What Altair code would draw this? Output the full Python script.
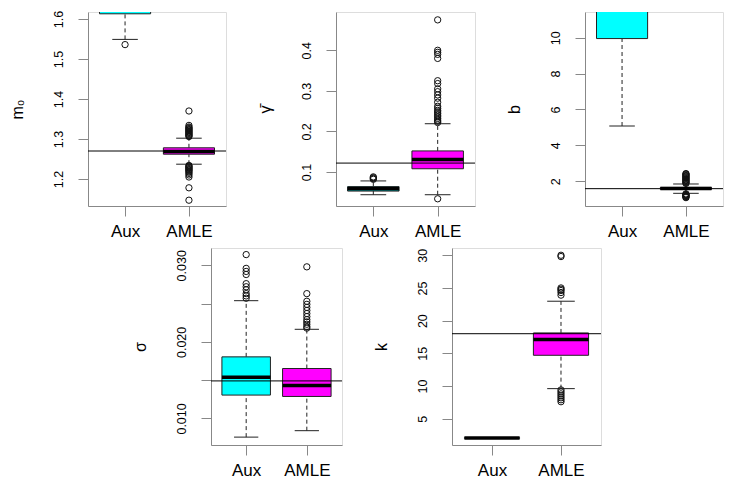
import altair as alt
import pandas as pd

groups = ["Aux", "AMLE"]
positions = [1, 2]
fills = ["#00FFFF", "#FF00FF"]

# five-number summaries: lower whisker, q1, median, q3, upper whisker
m0_aux = [1.549, 1.613, 1.66, 1.72, 1.80]
m0_amle = [1.237, 1.262, 1.269, 1.278, 1.302]
m0_aux_out = [1.536]
m0_amle_out = [1.306, 1.308, 1.310, 1.312, 1.314, 1.316, 1.318, 1.320, 1.322, 1.324,
               1.326, 1.328, 1.330, 1.334, 1.370,
               1.234, 1.232, 1.230, 1.228, 1.226, 1.224, 1.222, 1.220, 1.217, 1.214,
               1.210, 1.205, 1.178, 1.147]
m0_true = 1.27
m0_ticks = [1.2, 1.3, 1.4, 1.5, 1.6]

g_aux = [0.044, 0.053, 0.059, 0.064, 0.078]
g_amle = [0.044, 0.108, 0.131, 0.152, 0.219]
g_aux_out = [0.082, 0.084, 0.086, 0.088]
g_amle_out = [0.475, 0.400, 0.395, 0.390, 0.380, 0.325, 0.318, 0.305, 0.298, 0.290,
              0.282, 0.272, 0.262, 0.257, 0.252, 0.248, 0.244, 0.240, 0.236, 0.232,
              0.228, 0.225, 0.222, 0.034]
g_true = 0.122
g_ticks = [0.1, 0.2, 0.3, 0.4]

b_aux = [5.08, 9.95, 12.5, 15.0, 22.0]
b_amle = [1.33, 1.55, 1.60, 1.66, 1.85]
b_aux_out = []
b_amle_out = [1.88, 1.92, 1.96, 2.00, 2.04, 2.08, 2.12, 2.16, 2.20, 2.24, 2.28, 2.32,
              2.36, 2.40, 2.43, 1.30, 1.27, 1.24, 1.21, 1.18, 1.15, 1.12, 1.09]
b_true = 1.59
b_ticks = [2, 4, 6, 8, 10]

s_aux = [0.00756, 0.01305, 0.01539, 0.01804, 0.02538]
s_amle = [0.0084, 0.01287, 0.0143, 0.01652, 0.02164]
s_aux_out = [0.0314, 0.0296, 0.0292, 0.0288, 0.0276, 0.0272, 0.0268, 0.0263, 0.0260, 0.0257]
s_amle_out = [0.0298, 0.0263, 0.0253, 0.0249, 0.0245, 0.0241, 0.0237, 0.0233, 0.0229,
              0.0226, 0.0223, 0.0220, 0.0218]
s_true = 0.0149
s_ticks = [0.010, 0.015, 0.020, 0.025, 0.030]

k_aux = [2.0, 2.0, 2.05, 2.1, 2.1]
k_amle = [9.6, 14.7, 17.1, 18.12, 22.97]
k_aux_out = []
k_amle_out = [30.0, 29.8, 25.0, 24.8, 24.6, 24.3, 23.9, 9.4, 9.1, 8.8, 8.5, 8.2, 7.9, 7.6]
k_true = 18.0
k_ticks = [5, 10, 15, 20, 25, 30]

FONT = "Liberation Sans"


def panel(title, aux, amle, aux_out, amle_out, true_val, domain, ticks, fmt,
          width, height, label_expr=None):
    box = pd.DataFrame({
        "group": groups, "pos": positions,
        "lw": [aux[0], amle[0]], "q1": [aux[1], amle[1]], "med": [aux[2], amle[2]],
        "q3": [aux[3], amle[3]], "uw": [aux[4], amle[4]],
    })
    out = pd.DataFrame({"pos": [1] * len(aux_out) + [2] * len(amle_out),
                        "v": list(aux_out) + list(amle_out)})
    tru = pd.DataFrame({"v": [true_val]})

    xs = alt.Scale(domain=[0.42, 2.58], nice=False, zero=False)
    xax = alt.Axis(values=positions, labelExpr="datum.value == 1 ? 'Aux' : 'AMLE'",
                   title=None, tickSize=10, labelFontSize=17, labelPadding=7,
                   labelAngle=0, labelFlush=False, labelOverlap=False, grid=False)
    ys = alt.Scale(domain=domain, nice=False, zero=False)
    ykw = dict(title=title, values=ticks, format=fmt, tickSize=10, labelAngle=270,
               labelAlign="center", labelBaseline="alphabetic", labelPadding=16,
               labelFontSize=12.5, labelOverlap=False, labelFlush=False,
               titleAngle=270, titleAlign="center", titleBaseline="alphabetic",
               titleX=-66, titleY=height / 2, titleFontSize=16,
               titleFontWeight="normal", grid=False)
    if label_expr:
        ykw["labelExpr"] = label_expr
    yax = alt.Axis(**ykw)

    def X(f):
        return alt.X(f, type="quantitative", scale=xs, axis=xax)

    def Y(f):
        return alt.Y(f, type="quantitative", scale=ys, axis=yax)

    base = alt.Chart(box).transform_calculate(
        xl="datum.pos - 0.4", xr="datum.pos + 0.4",
        cl="datum.pos - 0.2", cr="datum.pos + 0.2")

    wu = base.mark_rule(color="#222", strokeDash=[4, 3], clip=True).encode(
        x=X("pos"), y=Y("q3"), y2="uw")
    wl = base.mark_rule(color="#222", strokeDash=[4, 3], clip=True).encode(
        x=X("pos"), y=Y("lw"), y2="q1")
    cu = base.mark_rule(color="#222", clip=True).encode(x=X("cl"), x2="cr", y=Y("uw"))
    cl = base.mark_rule(color="#222", clip=True).encode(x=X("cl"), x2="cr", y=Y("lw"))
    rect = base.mark_rect(stroke="#222", strokeWidth=1, clip=True).encode(
        x=X("xl"), x2="xr", y=Y("q1"), y2="q3",
        fill=alt.Fill("group:N", scale=alt.Scale(domain=groups, range=fills), legend=None))
    med = base.mark_rule(color="black", strokeWidth=3.5, clip=True).encode(
        x=X("xl"), x2="xr", y=Y("med"))
    pts = alt.Chart(out).mark_point(shape="circle", filled=False, size=40, color="#111",
                                     strokeWidth=1, opacity=1, clip=True).encode(
        x=X("pos"), y=Y("v"))
    ref = alt.Chart(tru).mark_rule(color="black", strokeWidth=1).encode(y=Y("v"))

    return alt.layer(wu, wl, cu, cl, rect, med, pts, ref).properties(
        width=width, height=height)


p1 = panel("m₀", m0_aux, m0_amle, m0_aux_out, m0_amle_out, m0_true,
           [1.1325, 1.6175], m0_ticks, ".1f", 138, 194)
p2 = panel("γ̄", g_aux, g_amle, g_aux_out, g_amle_out, g_true,
           [0.0162, 0.4944], g_ticks, ".1f", 139, 194)
p3 = panel("b", b_aux, b_amle, b_aux_out, b_amle_out, b_true,
           [0.624, 11.43], b_ticks, "d", 138, 194)
p4 = panel("σ", s_aux, s_amle, s_aux_out, s_amle_out, s_true,
           [0.00653, 0.03226], s_ticks, ".3f", 131, 197,
           label_expr="indexof(['0.010','0.020','0.030'], datum.label) >= 0 ? datum.label : ''")
p5 = panel("k", k_aux, k_amle, k_aux_out, k_amle_out, k_true,
           [0.98, 31.11], k_ticks, "d", 149, 197)

spacer = alt.Chart(pd.DataFrame({"a": [0]})).mark_point(opacity=0).encode(
    x=alt.value(0), y=alt.value(0)).properties(
    width=13, height=197, view=alt.ViewBackground(strokeOpacity=0))

top = alt.hconcat(p1, p2, p3, spacing=110, bounds="flush")
bottom = alt.hconcat(spacer, p4, p5, spacing=110, bounds="flush")

chart = alt.vconcat(top, bottom, spacing=5, bounds="full").properties(
    padding={"left": 0, "top": 1, "right": 5, "bottom": 5}
).configure_view(stroke="#333", strokeWidth=1).configure_axis(
    labelFont=FONT, titleFont=FONT, titleFontWeight="normal", domain=False,
    tickColor="#333", labelColor="#111", titleColor="#111"
).configure(background="white")

chart.save("out.html", embed_options={"renderer": "svg", "actions": False})
